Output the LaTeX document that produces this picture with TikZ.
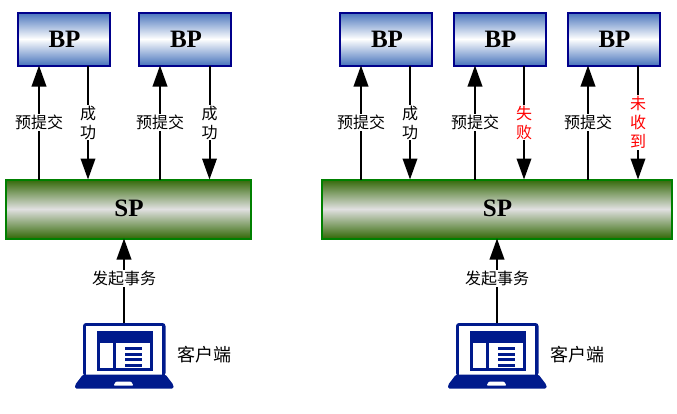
\documentclass[tikz,border=0pt]{standalone}
\usepackage{fontspec}
\setmainfont{Liberation Serif}
\newfontfamily\cjk{Noto Sans CJK SC}
\usetikzlibrary{arrows.meta}
\definecolor{bpblue}{RGB}{72,116,188}
\definecolor{bpnavy}{RGB}{0,0,139}
\definecolor{spgreen}{RGB}{52,105,8}
\definecolor{spline}{RGB}{0,128,0}
\definecolor{lapblue}{RGB}{0,26,140}
\tikzset{
  bpbox/.style={draw=bpnavy,line width=2pt,top color=bpblue,bottom color=bpblue,middle color=white,
    minimum width=92,minimum height=53,inner sep=0pt,outer sep=0pt,font=\fontsize{25}{25}\selectfont\bfseries},
  spbox/.style={draw=spline,line width=2pt,top color=spgreen,bottom color=spgreen,middle color=black!12,
    minimum height=59,inner sep=0pt,outer sep=0pt,font=\fontsize{25}{25}\selectfont\bfseries},
  tag/.style={fill=white,inner sep=1pt,align=center,text=black,font=\fontsize{16}{19}\selectfont\cjk},
  redtag/.style={tag,text=red},
  clienttag/.style={anchor=west,inner sep=0pt,text=black,font=\fontsize{18}{20}\selectfont\cjk},
  laptop/.pic={
    \fill[lapblue,rounded corners=3pt](8,0)rectangle(90.5,53);
    \fill[white](11,3)rectangle(87,51.5);
    \fill[lapblue,rounded corners=1.5pt](8,51.5)--(0,62)--(0,65.7)--(98.5,65.7)--(98.5,62)--(90.5,51.5)--cycle;
    \fill[white,rounded corners=1pt](41,58.5)--(56,58.5)--(58.5,62.5)--(38.5,62.5)--cycle;
    \fill[lapblue](22,8)rectangle(78,48);
    \fill[white](25,20)rectangle(38,45);
    \fill[white](41,20)rectangle(75,45);
    \foreach \y in {23.5,29.5,35,40.5}
      \fill[lapblue](50,\y)rectangle(67,\y+3);
    \coordinate(-top)at(49,0);
    \coordinate(-side)at(101,32);
  }
}
\begin{document}
\begin{tikzpicture}[x=1pt,y=-1pt,>={Triangle[length=21pt,width=14.5pt]},line width=2pt]
\useasboundingbox(0,0)rectangle(677,413);
% servers, left group
\node[bpbox](bpa)at(63.5,39){\hspace{2pt}BP};
\node[bpbox](bpb)at(185,39){\hspace{2pt}BP};
\node[spbox,minimum width=245](spa)at(128,209){\hspace{2pt}\raisebox{1pt}{SP}};
% servers, right group
\node[bpbox](bpc)at(386,39){\hspace{2pt}BP};
\node[bpbox](bpd)at(499.5,39){\hspace{2pt}BP};
\node[bpbox](bpe)at(613.5,39){\hspace{2pt}BP};
\node[spbox,minimum width=350](spb)at(496.5,209){\hspace{2pt}\raisebox{1pt}{SP}};
% clients
\pic(lapa)at(75,323){laptop};
\pic(lapb)at(448,323){laptop};
\node[clienttag](cla)at(lapa-side){客户端};
\node[clienttag](clb)at(lapb-side){客户端};
\draw[->](lapa-top)--(lapa-top|-spa.south)node[pos=.53,tag]{发起事务};
\draw[->](lapb-top)--(lapb-top|-spb.south)node[pos=.53,tag]{发起事务};
% up: x of arrow, box, sp
\foreach \x/\bp/\sp in {39/bpa/spa,160/bpb/spa,361/bpc/spb,475/bpd/spb,588/bpe/spb}{
  \coordinate(up)at(\x,0);
  \draw[->](\sp.north-|up)--(\bp.south-|up)node[midway,tag]{预提交};
}
% down
\foreach \x/\bp/\sp/\sty/\txt in {88/bpa/spa/tag/成\\功,209.5/bpb/spa/tag/成\\功,410/bpc/spb/tag/成\\功,524/bpd/spb/redtag/失\\败,638/bpe/spb/redtag/未\\收\\到}{
  \coordinate(down)at(\x,0);
  \draw[->](\bp.south-|down)--(\sp.north-|down)node[midway,\sty]{\txt};
}
\end{tikzpicture}
\end{document}
